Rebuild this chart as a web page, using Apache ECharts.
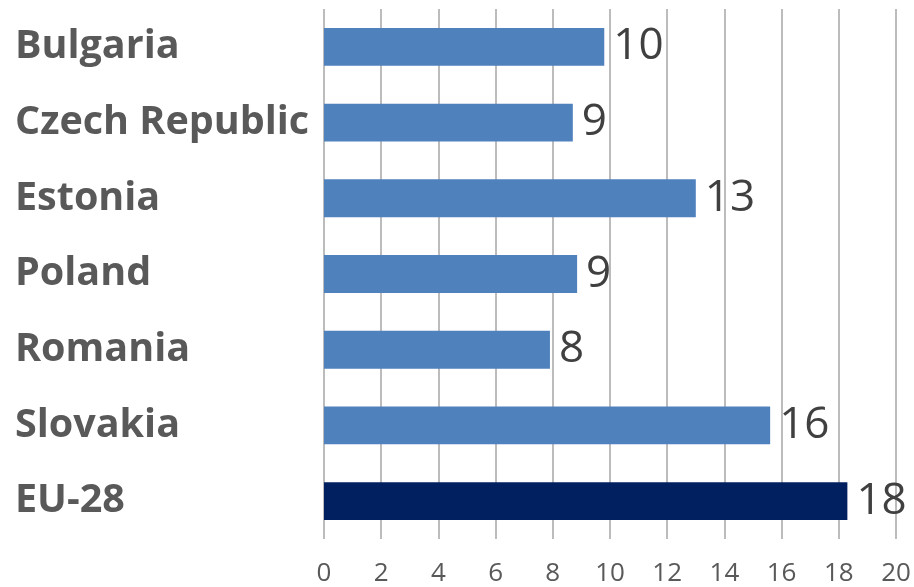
<!DOCTYPE html>
<html>
<head>
<meta charset="utf-8">
<script src="https://cdn.jsdelivr.net/npm/echarts@6/dist/echarts.min.js"></script>
<style>html,body{margin:0;padding:0;background:#fff}#c{width:914px;height:587px}</style>
</head>
<body>
<div id="c"></div>
<script>
const categories = ['Bulgaria', 'Czech Republic', 'Estonia', 'Poland', 'Romania', 'Slovakia', 'EU-28'];
const values = [9.8, 8.7, 13.0, 8.85, 7.9, 15.6, 18.3];
const valueLabels = ['10', '9', '13', '9', '8', '16', '18'];
const tickValues = [0, 2, 4, 6, 8, 10, 12, 14, 16, 18, 20];

const chart = echarts.init(document.getElementById('c'));
const barData = values.map((v, i) => ({
  value: v,
  itemStyle: { color: categories[i] === 'EU-28' ? '#002060' : '#4f81bd' },
  label: { formatter: valueLabels[i] }
}));
chart.setOption({
  animation: false,
  backgroundColor: '#fff',
  grid: { left: 324, right: 18, top: 9, bottom: 48, containLabel: false },
  xAxis: {
    type: 'value', min: tickValues[0], max: tickValues[tickValues.length - 1], interval: 2,
    axisLine: { show: false },
    axisTick: { show: false },
    splitLine: { show: true, lineStyle: { color: '#bcbcbc', width: 2 } },
    axisLabel: { color: '#595959', fontFamily: 'Open Sans', fontSize: 26, margin: 22 }
  },
  yAxis: {
    type: 'category', data: categories, inverse: true,
    axisLine: { show: false }, axisTick: { show: false },
    axisLabel: { color: '#595959', fontFamily: 'Open Sans', fontWeight: 'bold', fontSize: 39.5, align: 'left', margin: 309, padding: [10, 0, 0, 0] }
  },
  series: [{
    type: 'bar', data: barData, barCategoryGap: '50%',
    label: { show: true, position: 'right', distance: 9, color: '#404040', fontFamily: 'Open Sans', fontSize: 44, padding: [5, 0, 0, 0] }
  }]
});
</script>
</body>
</html>
